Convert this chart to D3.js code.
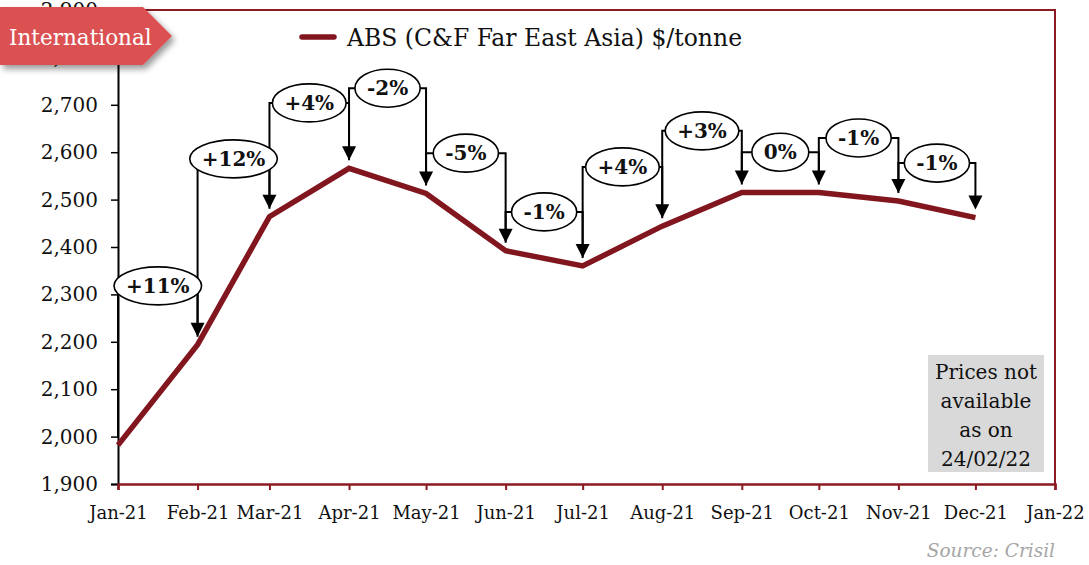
<!DOCTYPE html>
<html>
<head>
<meta charset="utf-8">
<script src="https://cdn.jsdelivr.net/npm/d3@7"></script>
<style>
  html, body { margin: 0; padding: 0; background: #fff; }
  svg { display: block; font-family: "DejaVu Serif", "Liberation Serif", serif; }
</style>
</head>
<body>
<svg id="chart" width="1089" height="565"></svg>
<script>
// Monthly ABS prices, C&F Far East Asia, $/tonne
const months = ["2021-01", "2021-02", "2021-03", "2021-04", "2021-05", "2021-06",
                "2021-07", "2021-08", "2021-09", "2021-10", "2021-11", "2021-12"];
const prices = [1982, 2194, 2464, 2566, 2513, 2392, 2360, 2444, 2515, 2515, 2497, 2462];

// Month-on-month change callouts (one per month from Feb) and the price level each sits at
const changeLabels = ["+11%", "+12%", "+4%", "-2%", "-5%", "-1%", "+4%", "+3%", "0%", "-1%", "-1%"];
const calloutLevels = [2318, 2586, 2704, 2735, 2598, 2474, 2569, 2645, 2600, 2630, 2577];

// Axis ticks
const yTicks = [1900, 2000, 2100, 2200, 2300, 2400, 2500, 2600, 2700, 2800, 2900];
const xTickMonths = ["2021-01", "2021-02", "2021-03", "2021-04", "2021-05", "2021-06", "2021-07",
                     "2021-08", "2021-09", "2021-10", "2021-11", "2021-12", "2022-01"];

const noteLines = ["Prices not", "available", "as on", "24/02/22"];
const legendText = "ABS (C&F Far East Asia) $/tonne";
const tagText = "International";
const sourceText = "Source: Crisil";

const parseMonth = d3.timeParse("%Y-%m");
const dates = months.map(parseMonth);
const xTickDates = xTickMonths.map(parseMonth);

const svg = d3.select("#chart");
const plotL = 118, plotR = 1055, plotT = 10, plotB = 484;
const lineColor = "#82161f";
const frameColor = "#8b1a22";

const x = d3.scaleTime().domain([xTickDates[0], xTickDates[xTickDates.length - 1]]).range([plotL, plotR]);
const y = d3.scaleLinear().domain([1900, 2900]).range([plotB, plotT]);

// Frame: top and right edges in dark red
svg.append("path")
  .attr("d", `M${plotL},${plotT}H${plotR}V${plotB}`)
  .attr("fill", "none").attr("stroke", frameColor).attr("stroke-width", 2);

// Y axis
const yAxis = svg.append("g").attr("transform", `translate(${plotL},0)`)
  .call(d3.axisLeft(y).tickValues(yTicks).tickFormat(d3.format(",")).tickSize(7).tickPadding(13));
yAxis.select(".domain").attr("stroke", "#000").attr("stroke-width", 2);
yAxis.selectAll(".tick line").attr("stroke", "#000").attr("stroke-width", 1.5);
yAxis.selectAll("text").attr("font-size", 20).attr("fill", "#111")
  .attr("font-family", "DejaVu Serif, serif");

// X axis
const xAxis = svg.append("g").attr("transform", `translate(0,${plotB})`)
  .call(d3.axisBottom(x).tickValues(xTickDates).tickFormat(d3.timeFormat("%b-%y")).tickSize(6).tickPadding(16));
xAxis.select(".domain").attr("stroke", frameColor).attr("stroke-width", 2.5);
xAxis.selectAll(".tick line").attr("stroke", frameColor).attr("stroke-width", 2);
xAxis.selectAll("text").attr("font-size", 18).attr("fill", "#111")
  .attr("font-family", "DejaVu Serif, serif");

// Price line
const series = dates.map((d, i) => ({ date: d, value: prices[i] }));
svg.append("path")
  .datum(series)
  .attr("fill", "none")
  .attr("stroke", lineColor)
  .attr("stroke-width", 5.5)
  .attr("stroke-linejoin", "miter")
  .attr("d", d3.line().x(d => x(d.date)).y(d => y(d.value)));

// Callouts: bracket from previous month to current month ending in an arrow above the point
const arrowGap = 8, headW = 7, headH = 14;
const callouts = changeLabels.map((label, k) => {
  const i = k + 1;
  return {
    label,
    x0: x(dates[i - 1]), x1: x(dates[i]),
    yPrevTip: y(prices[i - 1]) - arrowGap,
    yTip: y(prices[i]) - arrowGap,
    yLevel: y(calloutLevels[k])
  };
});

const cg = svg.append("g");
callouts.forEach(c => {
  cg.append("path")
    .attr("d", `M${c.x0},${c.yPrevTip}V${c.yLevel}H${c.x1}V${c.yTip - headH + 1}`)
    .attr("fill", "none").attr("stroke", "#000").attr("stroke-width", 2);
  cg.append("path")
    .attr("d", `M${c.x1 - headW},${c.yTip - headH}L${c.x1 + headW},${c.yTip - headH}L${c.x1},${c.yTip}Z`)
    .attr("fill", "#000");
});
callouts.forEach(c => {
  const g = cg.append("g");
  const cx = (c.x0 + c.x1) / 2;
  const el = g.append("ellipse").attr("cx", cx).attr("cy", c.yLevel)
    .attr("fill", "#fff").attr("stroke", "#000").attr("stroke-width", 1.6);
  const t = g.append("text").attr("x", cx).attr("y", c.yLevel).attr("dy", "0.36em")
    .attr("text-anchor", "middle").attr("font-weight", "bold").attr("font-size", 20)
    .attr("fill", "#111").text(c.label);
  const w = t.node().getComputedTextLength();
  el.attr("rx", w / 2 + 12).attr("ry", 19);
});

// Legend
svg.append("line").attr("x1", 302).attr("x2", 334).attr("y1", 37).attr("y2", 37)
  .attr("stroke", lineColor).attr("stroke-width", 5.5).attr("stroke-linecap", "round");
svg.append("text").attr("x", 347).attr("y", 46).attr("font-size", 23.5).attr("fill", "#111")
  .text(legendText);

// Availability note
const note = svg.append("g");
note.append("rect").attr("x", 928).attr("y", 355).attr("width", 116).attr("height", 117)
  .attr("fill", "#d9d9d9");
noteLines.forEach((line, i) => {
  note.append("text").attr("x", 986).attr("y", 379 + i * 29).attr("text-anchor", "middle")
    .attr("font-size", 20).attr("fill", "#111").text(line);
});

// Source
svg.append("text").attr("x", 1055).attr("y", 557).attr("text-anchor", "end")
  .attr("font-size", 18.5).attr("font-style", "italic").attr("fill", "#a6a6a6").text(sourceText);

// Section tag with drop shadow
const defs = svg.append("defs");
const f = defs.append("filter").attr("id", "tagShadow").attr("x", "-20%").attr("y", "-30%")
  .attr("width", "150%").attr("height", "180%");
f.append("feDropShadow").attr("dx", 3).attr("dy", 4).attr("stdDeviation", 3)
  .attr("flood-color", "#000").attr("flood-opacity", 0.4);
svg.append("path")
  .attr("d", "M0,7H143L172,36L143,65H0Z")
  .attr("fill", "#db5151").attr("filter", "url(#tagShadow)");
svg.append("text").attr("x", 9).attr("y", 45).attr("font-size", 21.5).attr("fill", "#fff")
  .text(tagText);
</script>
</body>
</html>
